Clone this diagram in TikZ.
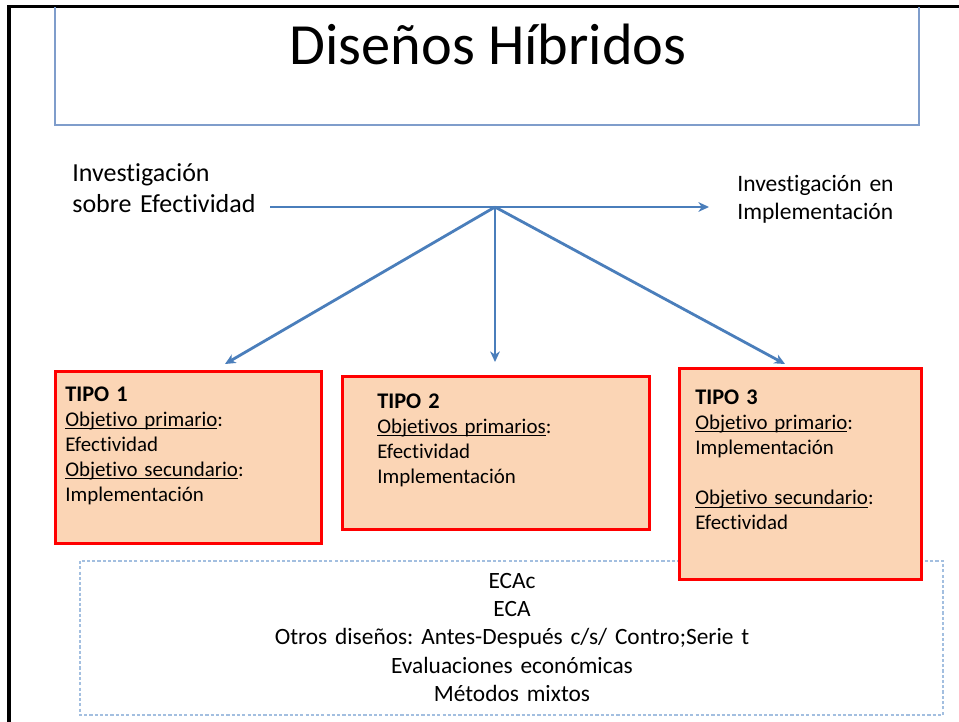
\documentclass[tikz,border=0pt]{standalone}
\usepackage{fontspec}
\setmainfont{Carlito}[Ligatures={NoCommon}]
\usetikzlibrary{arrows.meta}
\definecolor{arrowblue}{HTML}{4A7EBB}
\definecolor{titleline}{HTML}{7F9DCB}
\definecolor{dashblue}{HTML}{A3BFE0}
\definecolor{peach}{HTML}{FBD5B5}
\definecolor{boxred}{HTML}{FF0000}
\newcommand{\subrayado}[1]{\underline{\smash{#1}}}
\newcommand{\tipohead}{\fontsize{12.7}{14.3}\selectfont\bfseries}
\frenchspacing

\begin{document}
\begin{tikzpicture}[x=.02cm,y=-.02cm,
  flecha/.style={draw=arrowblue,line width=1.6pt,-{Stealth[length=6pt,width=5.5pt,inset=1.8pt]}},
  tipobox/.style={draw=boxred,fill=peach,line width=1.7pt,inner sep=0pt,anchor=north west},
  tipotxt/.style={anchor=base west,align=left,text width=4cm,inner sep=0pt,font=\fontsize{11.9}{14.3}\selectfont},
  lado/.style={anchor=base west,align=left,text width=4cm,inner sep=0pt}]
\useasboundingbox (0,0) rectangle (959,722);
\fill[white] (0,0) rectangle (959,722);
% slide frame and title
\draw[line width=2pt] (9,722) -- (9,6.3) -- (959,6.3);
\draw[draw=titleline,line width=.6pt] (55,7.5) -- (55,125) -- (919,125) -- (919,7.5);
\node[anchor=base,inner sep=0pt,font=\fontsize{33.2}{38}\selectfont] (titulo) at (488,65) {Diseños Híbridos};
% the two ends of the continuum
\node[lado,font=\fontsize{14.8}{17.6}\selectfont] (efect) at (72,182) {Investigación\\sobre Efectividad};
\node[lado,font=\fontsize{13.4}{15.9}\selectfont] (implem) at (737,192) {Investigación en\\Implementación};
% methods box behind the types
\draw[draw=dashblue,line width=.6pt,dash pattern=on 1.8pt off 1.2pt] (80,561) rectangle (943,715);
\node[anchor=base,align=center,text width=16cm,inner sep=0pt,font=\fontsize{13.3}{16.2}\selectfont] (metodos) at (512,588)
  {ECAc\\ECA\\Otros diseños: Antes-Después c/s/ Contro;Serie t\\Evaluaciones económicas\\Métodos mixtos};
% the three hybrid types
\node[tipobox,minimum width=5.32cm,minimum height=3.44cm] (tipo1) at (54,370) {};
\node[tipobox,minimum width=6.14cm,minimum height=3.06cm] (tipo2) at (341,375) {};
\node[tipobox,minimum width=4.84cm,minimum height=4.22cm] (tipo3) at (678,367) {};
\node[tipotxt] (tipo1txt) at (65,401) {{\tipohead TIPO 1}\\\subrayado{Objetivo primario}:\\Efectividad\\\subrayado{Objetivo secundario}:\\Implementación};
\node[tipotxt] (tipo2txt) at (377,408) {{\tipohead TIPO 2}\\\subrayado{Objetivos primarios}:\\Efectividad\\Implementación};
\node[tipotxt] (tipo3txt) at (695,404) {{\tipohead TIPO 3}\\\subrayado{Objetivo primario}:\\Implementación\\[14.3pt]\subrayado{Objetivo secundario}:\\Efectividad};
% arrows
\coordinate (inicio) at (270,207);
\coordinate (fin) at (709,207);
\coordinate (hub) at (495,207);
\coordinate (t1) at (225,364);
\coordinate (t2) at (495,362);
\coordinate (t3) at (785,364);
\draw[flecha] (inicio) -- (fin);
\foreach \t in {t1,t2,t3}{\draw[flecha] (hub) -- (\t);}
\end{tikzpicture}
\end{document}
